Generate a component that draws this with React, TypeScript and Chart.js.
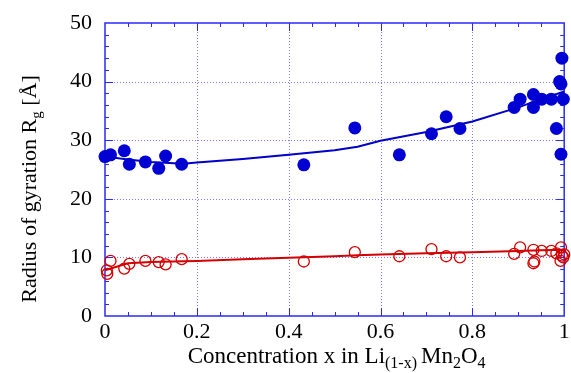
import React, { useEffect, useRef } from "react";
import { Chart, registerables } from "chart.js";

Chart.register(...registerables);

// ---- Data ----
const xTickValues = [0, 0.2, 0.4, 0.6, 0.8, 1];
const xTickLabels = ["0", "0.2", "0.4", "0.6", "0.8", "1"];
const yTickValues = [0, 10, 20, 30, 40, 50];

const blueX = [0.0, 0.012, 0.042, 0.053, 0.088, 0.117, 0.132, 0.167, 0.433, 0.544, 0.641, 0.711, 0.743, 0.773, 0.891, 0.904, 0.933, 0.933, 0.951, 0.972, 0.983, 0.99, 0.993, 0.998, 0.995, 0.993];
const blueY = [27.2, 27.5, 28.2, 25.9, 26.3, 25.2, 27.3, 25.9, 25.8, 32.1, 27.5, 31.1, 34.0, 32.0, 35.6, 37.0, 37.8, 35.6, 37.0, 37.0, 32.0, 40.0, 39.6, 37.0, 44.0, 27.6];

const redX = [0.005, 0.004, 0.012, 0.042, 0.053, 0.088, 0.117, 0.132, 0.167, 0.433, 0.544, 0.641, 0.711, 0.743, 0.773, 0.891, 0.904, 0.933, 0.933, 0.935, 0.951, 0.972, 0.983, 0.993, 0.992, 0.995, 0.998, 1.0];
const redY = [7.2, 7.8, 9.4, 8.1, 8.9, 9.4, 9.2, 8.8, 9.7, 9.3, 10.9, 10.2, 11.4, 10.2, 10.0, 10.6, 11.7, 11.3, 9.0, 9.3, 11.1, 11.1, 10.7, 11.7, 9.4, 10.3, 10.0, 10.5];

const fitX = [0, 0.05, 0.1, 0.17, 0.2, 0.3, 0.4, 0.5, 0.55, 0.6, 0.7, 0.8, 0.9, 0.95, 1.0];
const blueFitY = [27.2, 26.7, 26.3, 26.0, 26.2, 26.8, 27.5, 28.3, 28.9, 29.9, 31.4, 33.2, 35.6, 37.0, 38.3];
const redFitY = [7.8, 9.0, 9.2, 9.35, 9.4, 9.7, 9.95, 10.2, 10.35, 10.5, 10.7, 10.9, 11.1, 11.2, 11.3];

// [text, isSubscript, extra gap after]
const xTitleParts: [string, boolean, number][] = [
  ["Concentration x in Li", false, 0],
  ["(1-x)", true, 4],
  ["Mn", false, 0],
  ["2", true, 0],
  ["O", false, 0],
  ["4", true, 0],
];
const yTitleParts: [string, boolean, number][] = [
  ["Radius of gyration R", false, 0],
  ["g", true, 0],
  [" [\u00C5]", false, 0],
];

const FONT = "'Liberation Serif', 'DejaVu Serif', serif";
const TICK_SIZE = 22;

function drawParts(
  ctx: CanvasRenderingContext2D,
  parts: [string, boolean, number][],
  cx: number,
  baseline: number,
  mainSize: number,
  subSize: number
) {
  let total = 0;
  const widths = parts.map(([t, sub, gap]) => {
    ctx.font = `${sub ? subSize : mainSize}px ${FONT}`;
    const w = ctx.measureText(t).width + gap;
    total += w;
    return w;
  });
  let x = cx - total / 2;
  parts.forEach(([t, sub], i) => {
    ctx.font = `${sub ? subSize : mainSize}px ${FONT}`;
    ctx.fillText(t, x, baseline + (sub ? 5 : 0));
    x += widths[i];
  });
}

const framePlugin = {
  id: "frame",
  beforeDatasetsDraw(chart: any) {
    const { ctx, chartArea } = chart;
    const { left, right, top, bottom } = chartArea;
    const xs = chart.scales.x;
    const ys = chart.scales.y;
    ctx.save();
    // dotted grid
    ctx.strokeStyle = "#7a7aff";
    ctx.lineWidth = 1;
    ctx.setLineDash([1, 2]);
    xTickValues.forEach((v) => {
      if (v <= 0 || v >= 1) return;
      const px = Math.round(xs.getPixelForValue(v)) + 0.5;
      ctx.beginPath();
      ctx.moveTo(px, top);
      ctx.lineTo(px, bottom);
      ctx.stroke();
    });
    yTickValues.forEach((v) => {
      if (v <= 0 || v >= 50) return;
      const py = Math.round(ys.getPixelForValue(v)) + 0.5;
      ctx.beginPath();
      ctx.moveTo(left, py);
      ctx.lineTo(right, py);
      ctx.stroke();
    });
    ctx.setLineDash([]);
    // ticks
    ctx.strokeStyle = "#2a2aff";
    ctx.lineWidth = 1;
    for (let i = 1; i < 20; i++) {
      const v = i * 0.05;
      const len = i % 4 === 0 ? 8 : 4;
      const px = Math.round(xs.getPixelForValue(v)) + 0.5;
      ctx.beginPath();
      ctx.moveTo(px, bottom);
      ctx.lineTo(px, bottom - len);
      ctx.moveTo(px, top);
      ctx.lineTo(px, top + len);
      ctx.stroke();
    }
    for (let i = 1; i < 25; i++) {
      const v = i * 2;
      const len = i % 5 === 0 ? 8 : 4;
      const py = Math.round(ys.getPixelForValue(v)) + 0.5;
      ctx.beginPath();
      ctx.moveTo(left, py);
      ctx.lineTo(left + len, py);
      ctx.moveTo(right, py);
      ctx.lineTo(right - len, py);
      ctx.stroke();
    }
    // frame
    ctx.strokeStyle = "#2a2aff";
    ctx.lineWidth = 1.5;
    ctx.strokeRect(left, top, right - left, bottom - top);
    ctx.restore();
  },
  afterDraw(chart: any) {
    const { ctx, chartArea } = chart;
    ctx.save();
    ctx.fillStyle = "#000000";
    ctx.textBaseline = "alphabetic";
    ctx.textAlign = "left";
    drawParts(ctx, xTitleParts, (chartArea.left + chartArea.right) / 2 + 2, 363, 23, 16);
    ctx.translate(36, 189);
    ctx.rotate(-Math.PI / 2);
    drawParts(ctx, yTitleParts, 0, 0, 22, 15);
    ctx.restore();
  },
};

export default function App() {
  const canvasRef = useRef<HTMLCanvasElement | null>(null);

  useEffect(() => {
    document.body.style.margin = "0";
    const canvas = canvasRef.current;
    if (!canvas) return;
    const chart = new Chart(canvas, {
      type: "scatter",
      data: {
        datasets: [
          {
            type: "line",
            data: fitX.map((x, i) => ({ x, y: blueFitY[i] })),
            borderColor: "#0000c8",
            borderWidth: 2,
            pointRadius: 0,
            tension: 0,
            fill: false,
          },
          {
            type: "line",
            data: fitX.map((x, i) => ({ x, y: redFitY[i] })),
            borderColor: "#d40000",
            borderWidth: 2,
            pointRadius: 0,
            tension: 0,
            fill: false,
          },
          {
            type: "scatter",
            data: blueX.map((x, i) => ({ x, y: blueY[i] })),
            backgroundColor: "#0000d4",
            borderColor: "#0000d4",
            borderWidth: 0,
            pointRadius: 6.5,
          },
          {
            type: "scatter",
            data: redX.map((x, i) => ({ x, y: redY[i] })),
            backgroundColor: "rgba(0,0,0,0)",
            borderColor: "#d40000",
            borderWidth: 1.3,
            pointRadius: 5.5,
          },
        ],
      } as any,
      options: {
        responsive: false,
        animation: false,
        clip: false as any,
        layout: { padding: { top: 23, right: 5, left: 0, bottom: 0 } },
        plugins: {
          legend: { display: false },
          tooltip: { enabled: false },
          title: { display: false },
        },
        scales: {
          x: {
            type: "linear",
            min: 0,
            max: 1,
            grid: { display: false, drawTicks: false },
            border: { display: false },
            afterBuildTicks: (scale: any) => {
              scale.ticks = xTickValues.map((v) => ({ value: v }));
            },
            afterFit: (scale: any) => {
              scale.height = 57;
              scale.paddingLeft = 0;
              scale.paddingRight = 0;
            },
            ticks: {
              autoSkip: false,
              maxRotation: 0,
              padding: 3,
              color: "#000000",
              font: { family: FONT, size: TICK_SIZE },
              callback: (v: any) => {
                const i = xTickValues.findIndex((t) => Math.abs(t - Number(v)) < 1e-9);
                return i >= 0 ? xTickLabels[i] : "";
              },
            },
          },
          y: {
            type: "linear",
            min: 0,
            max: 50,
            grid: { display: false, drawTicks: false },
            border: { display: false },
            afterBuildTicks: (scale: any) => {
              scale.ticks = yTickValues.map((v) => ({ value: v }));
            },
            afterFit: (scale: any) => {
              scale.width = 105;
              scale.paddingTop = 0;
              scale.paddingBottom = 0;
            },
            ticks: {
              autoSkip: false,
              padding: 13,
              color: "#000000",
              font: { family: FONT, size: TICK_SIZE },
              callback: (v: any) => String(v),
            },
          },
        },
      },
      plugins: [framePlugin],
    });
    return () => chart.destroy();
  }, []);

  return (
    <div style={{ position: "absolute", left: 0, top: 0, width: 571, height: 373, background: "#ffffff" }}>
      <canvas ref={canvasRef} width={571} height={373} style={{ display: "block", width: 571, height: 373 }} />
    </div>
  );
}
